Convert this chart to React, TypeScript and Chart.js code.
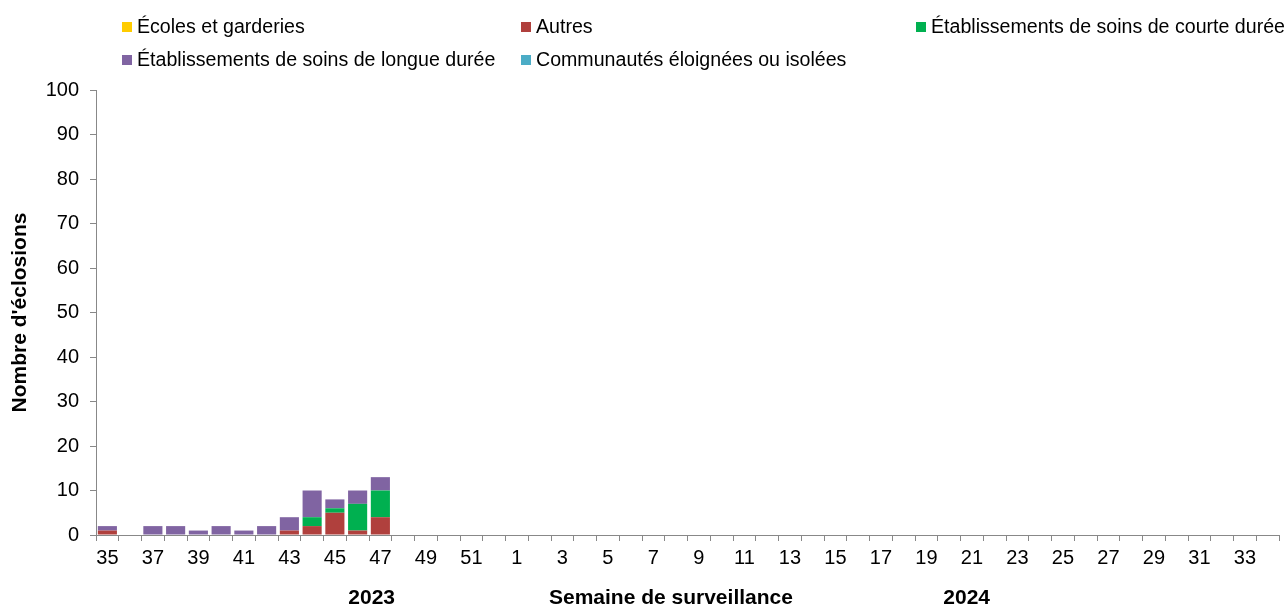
import React, { useEffect, useRef } from "react";
import { Chart, registerables } from "chart.js";

Chart.register(...registerables);

const weeks2023 = [35, 36, 37, 38, 39, 40, 41, 42, 43, 44, 45, 46, 47, 48, 49, 50, 51, 52];
const weeks2024 = [1, 2, 3, 4, 5, 6, 7, 8, 9, 10, 11, 12, 13, 14, 15, 16, 17, 18, 19, 20, 21, 22, 23, 24, 25, 26, 27, 28, 29, 30, 31, 32, 33, 34];
const categories = [...weeks2023, ...weeks2024].map(String);

// values for weeks 35..47 of 2023; later weeks have no data
const ecoles = [0, 0, 0, 0, 0, 0, 0, 0, 0, 0, 0, 0, 0];
const autres = [1, 0, 0, 0, 0, 0, 0, 0, 1, 2, 5, 1, 4];
const courteDuree = [0, 0, 0, 0, 0, 0, 0, 0, 0, 2, 1, 6, 6];
const longueDuree = [1, 0, 2, 2, 1, 2, 1, 2, 3, 6, 2, 3, 3];
const communautes = [0, 0, 0, 0, 0, 0, 0, 0, 0, 0, 0, 0, 0];

const seriesNames = [
  "Écoles et garderies",
  "Autres",
  "Établissements de soins de courte durée",
  "Établissements de soins de longue durée",
  "Communautés éloignées ou isolées",
];
const seriesColors = ["#FFCC00", "#B0403D", "#00B050", "#8064A2", "#4BACC6"];
const seriesData = [ecoles, autres, courteDuree, longueDuree, communautes];

const yTitle = "Nombre d'éclosions";
const xTitle = "Semaine de surveillance";
const yearLabels = ["2023", "2024"];

const FONT = "'Liberation Sans', Arial, sans-serif";

const overlayPlugin = {
  id: "overlay",
  afterDraw(chart: any) {
    const ctx = chart.ctx;
    ctx.save();
    // legend
    const legendPos = [
      [122, 27],
      [521, 27],
      [916, 27],
      [122, 60],
      [521, 60],
    ];
    ctx.font = `19.6px ${FONT}`;
    ctx.textBaseline = "middle";
    ctx.textAlign = "left";
    seriesNames.forEach((name, i) => {
      const [x, y] = legendPos[i];
      ctx.fillStyle = seriesColors[i];
      ctx.fillRect(x, y - 5, 10, 10);
      ctx.fillStyle = "#000";
      ctx.fillText(name, x + 15, y + 1);
    });
    // bottom titles
    const area = chart.chartArea;
    const w = area.right - area.left;
    ctx.font = `bold 21px ${FONT}`;
    ctx.textAlign = "center";
    ctx.textBaseline = "middle";
    ctx.fillStyle = "#000";
    ctx.fillText(yearLabels[0], area.left + w * 0.233, 598);
    ctx.fillText(xTitle, area.left + w * 0.486, 598);
    ctx.fillText(yearLabels[1], area.left + w * 0.736, 598);
    ctx.restore();
  },
};

export default function App() {
  const ref = useRef<HTMLCanvasElement>(null);
  useEffect(() => {
    if (!ref.current) return;
    const chart = new Chart(ref.current, {
      type: "bar",
      data: {
        labels: categories,
        datasets: seriesNames.map((name, i) => ({
          label: name,
          data: seriesData[i],
          backgroundColor: seriesColors[i],
          borderWidth: 0,
          barPercentage: 0.84,
          categoryPercentage: 1,
        })),
      },
      options: {
        animation: false,
        responsive: false,
        maintainAspectRatio: false,
        layout: { padding: { top: 90, left: 8, right: 7, bottom: 0 } },
        plugins: { legend: { display: false }, tooltip: { enabled: false } },
        scales: {
          x: {
            stacked: true,
            border: { color: "#888", width: 1 },
            grid: { display: true, drawOnChartArea: false, drawTicks: true, tickLength: 6, color: "#888", offset: true },
            ticks: {
              autoSkip: false,
              maxRotation: 0,
              minRotation: 0,
              color: "#000",
              font: { family: FONT, size: 20 },
              padding: 5,
              callback: (_v: any, i: number) => (i % 2 === 0 ? categories[i] : ""),
            },
            afterFit: (s: any) => {
              s.height = 71;
            },
          },
          y: {
            stacked: true,
            min: 0,
            max: 100,
            border: { color: "#888", width: 1 },
            grid: { display: true, drawOnChartArea: false, drawTicks: true, tickLength: 6, color: "#888" },
            ticks: {
              stepSize: 10,
              color: "#000",
              font: { family: FONT, size: 20 },
              padding: 11,
            },
            title: {
              display: true,
              text: yTitle,
              color: "#000",
              font: { family: FONT, size: 21, weight: "bold" },
              padding: 0,
            },
            afterFit: (s: any) => {
              s.width = 88;
            },
          },
        },
      },
      plugins: [overlayPlugin],
    });
    return () => chart.destroy();
  }, []);
  return (
    <div style={{ position: "absolute", left: 0, top: 0, width: 1286, height: 606, background: "#fff" }}>
      <canvas ref={ref} width={1286} height={606} style={{ display: "block" }} />
    </div>
  );
}
